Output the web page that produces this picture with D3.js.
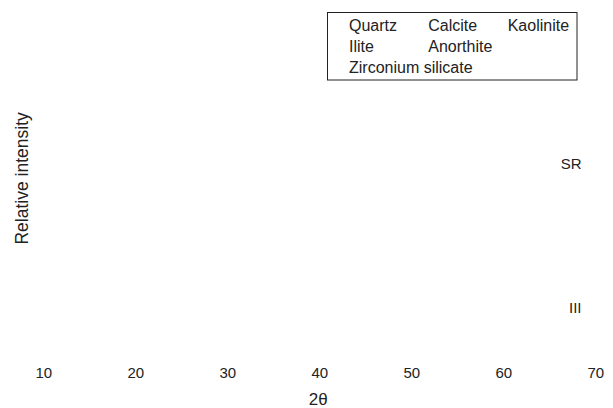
<!DOCTYPE html>
<html><head><meta charset="utf-8">
<script src="https://cdn.jsdelivr.net/npm/d3@7"></script>
<style>body{margin:0;background:#fff}svg{display:block}text{font-family:"Liberation Sans",Arial,sans-serif;fill:#222}</style>
</head><body>
<svg id="c" width="613" height="408"></svg>
<script>
const xTicks = [10, 20, 30, 40, 50, 60, 70];
const legendRows = [["Quartz", "Calcite", "Kaolinite"], ["Ilite", "Anorthite"], ["Zirconium silicate"]];
const sampleLabels = ["SR", "III"];
const sampleLevels = [1, 0];

const svg = d3.select("#c");
const x = d3.scaleLinear().domain([10, 70]).range([43.3, 595.3]);
const y = d3.scaleLinear().domain([0, 1]).range([312.5, 169.3]);

const ax = svg.append("g").attr("transform", "translate(0,377.5)")
  .call(d3.axisBottom(x).tickValues(xTicks).tickSize(0).tickPadding(0).tickFormat(d3.format("d")));
ax.select(".domain").remove();
ax.selectAll("text").attr("font-size", 15).attr("font-family", "Liberation Sans, Arial, sans-serif").attr("fill", "#222").attr("dy", "0");

svg.append("text").attr("x", x(40) - 1).attr("y", 405).attr("text-anchor", "middle").attr("font-size", 17).text("2θ");
svg.append("text").attr("transform", "translate(27.5,178.4) rotate(-90)").attr("text-anchor", "middle").attr("font-size", 17.5).text("Relative intensity");

svg.selectAll("text.samp").data(sampleLabels).join("text").attr("class", "samp")
  .attr("x", 581.5).attr("y", (d, i) => y(sampleLevels[i])).attr("text-anchor", "end").attr("font-size", 15).text(d => d);

const lg = svg.append("g");
lg.append("rect").attr("x", 327.5).attr("y", 12.5).attr("width", 249.5).attr("height", 67.5).attr("fill", "none").attr("stroke", "#222").attr("stroke-width", 1);
const colX = [349, 428.3, 507.7];
legendRows.forEach((row, r) => {
  row.forEach((t, c) => {
    lg.append("text").attr("x", colX[c]).attr("y", 31 + r * 21).attr("font-size", 16).text(t);
  });
});
</script>
</body></html>
